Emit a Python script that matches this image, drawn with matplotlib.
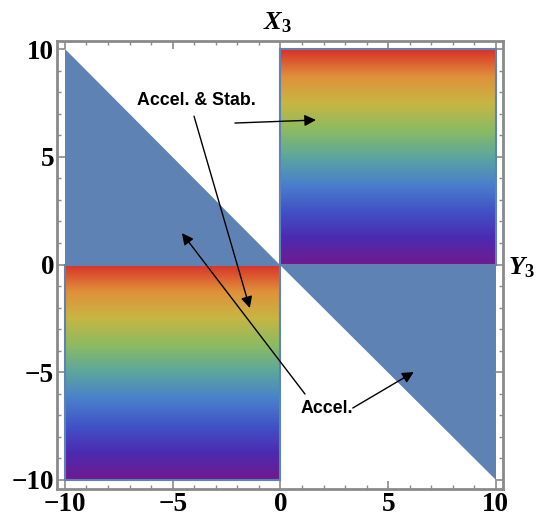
import numpy as np
import matplotlib
matplotlib.use('Agg')
import matplotlib.pyplot as plt
from matplotlib.colors import LinearSegmentedColormap
from matplotlib.patches import Polygon, Rectangle

plt.rcParams['mathtext.fontset'] = 'custom'
plt.rcParams['mathtext.it'] = 'Liberation Serif:italic:bold'
plt.rcParams['mathtext.rm'] = 'Liberation Serif:bold'

# region corners (data units)
blue_ul = [(-10, 10), (-10, 0), (0, 0)]
blue_lr = [(0, 0), (10, 0), (10, -10)]
square_ll = (-10, -10, 10, 10)   # x, y, w, h
square_ur = (0, 0, 10, 10)

# rainbow stops, bottom -> top
rainbow = ['#711a8f', '#4b2bb0', '#4153c6', '#4a80cc', '#5ba69e',
           '#8cbb62', '#c7b643', '#e0903a', '#d8302a']

# annotations: text, text pos, arrow targets (start, end)
notes = [
    ("Accel. & Stab.", (-3.92, 7.63),
     [((-2.11, 6.57), (1.65, 6.71)), ((-4.01, 6.89), (-1.42, -2.02))]),
    ("Accel.", (2.16, -6.66),
     [((1.14, -6.01), (-4.57, 1.46)), ((3.36, -6.66), (6.19, -4.99))]),
]

xticks = [-10, -5, 0, 5, 10]
yticks = [-10, -5, 0, 5, 10]

blue = '#5f82b5'
frame = '#8a8a8a'

fig = plt.figure(figsize=(5.36, 5.18), dpi=100)
ax = fig.add_axes([0.1063, 0.056, 0.8321, 0.8645])

ax.add_patch(Polygon(blue_ul, closed=True, facecolor=blue, edgecolor='none'))
ax.add_patch(Polygon(blue_lr, closed=True, facecolor=blue, edgecolor='none'))

cmap = LinearSegmentedColormap.from_list('rb', rainbow)
grad = np.linspace(0, 1, 256).reshape(-1, 1)
for sx, sy, sw, sh in [square_ll, square_ur]:
    ax.imshow(grad, cmap=cmap, origin='lower', aspect='auto',
              extent=[sx, sx + sw, sy, sy + sh], interpolation='bilinear', zorder=2)
    ax.add_patch(Rectangle((sx, sy), sw, sh, facecolor='none', edgecolor=blue,
                           linewidth=1.5, zorder=3))

for txt, pos, arrows in notes:
    ax.text(pos[0], pos[1], txt, ha='center', va='center', fontsize=12.8,
            fontweight='bold', family='Liberation Sans', zorder=5)
    for (x0, y0), (x1, y1) in arrows:
        ax.annotate('', xy=(x1, y1), xytext=(x0, y0), zorder=5,
                    arrowprops=dict(arrowstyle='-|>', color='black', lw=1.0,
                                    mutation_scale=17, shrinkA=0, shrinkB=0))

ax.set_xlim(-10.37, 10.33)
ax.set_ylim(-10.42, 10.37)

ax.set_xticks(xticks)
ax.set_yticks(yticks)
ax.set_xticks(np.arange(-10, 11, 1), minor=True)
ax.set_yticks(np.arange(-10, 11, 1), minor=True)
lab = lambda v: str(v).replace('-', '\u2212')
ax.set_xticklabels([lab(v) for v in xticks])
ax.set_yticklabels([lab(v) for v in yticks])
ax.tick_params(which='both', direction='in', top=True, right=True, color=frame)
ax.tick_params(which='major', length=6, width=1.2)
ax.tick_params(which='minor', length=3, width=1.0)
for t in ax.get_xticklabels() + ax.get_yticklabels():
    t.set_family('Liberation Serif')
    t.set_fontweight('bold')
    t.set_fontsize(19.5)
ax.tick_params(axis='x', pad=2)
ax.tick_params(axis='y', pad=2)
for s in ax.spines.values():
    s.set_color(frame)
    s.set_linewidth(2)

fig.text(277 / 536, 1 - 22 / 518, r'$X_3$', ha='center', va='center', fontsize=19)
fig.text(521 / 536, 1 - 267 / 518, r'$Y_3$', ha='center', va='center', fontsize=19)

fig.savefig('out.png', dpi=100)
